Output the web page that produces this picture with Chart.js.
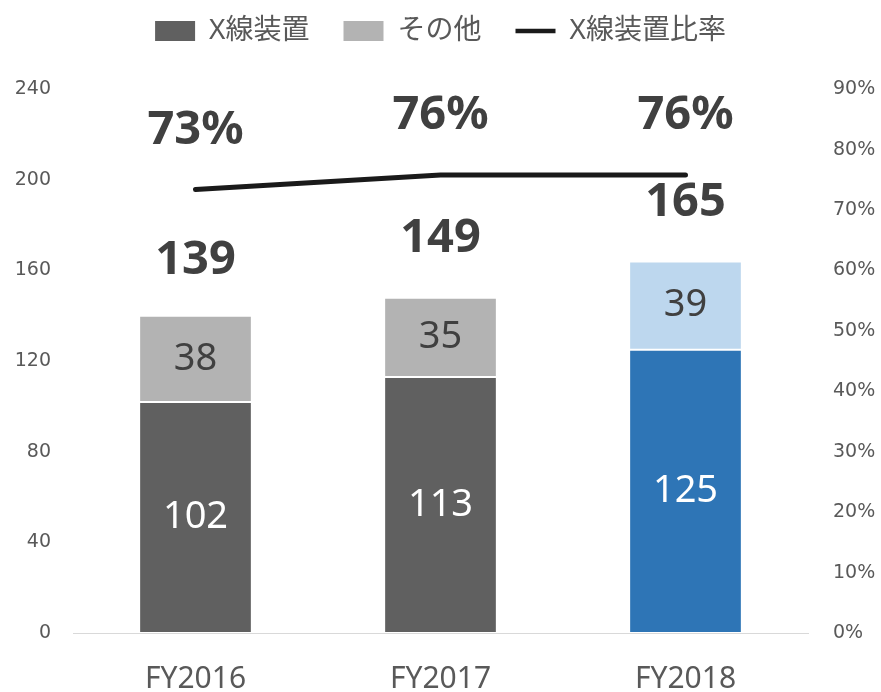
<!DOCTYPE html>
<html>
<head>
<meta charset="utf-8">
<script src="https://cdn.jsdelivr.net/npm/chart.js@4/dist/chart.umd.min.js"></script>
<style>
html,body{margin:0;padding:0;background:#fff;}
#wrap{width:881px;height:692px;position:relative;}
</style>
</head>
<body>
<div id="wrap"><canvas id="c" width="881" height="692"></canvas></div>
<script>
const categories = ['FY2016', 'FY2017', 'FY2018'];
const xraySales = [102, 113, 125];
const otherSales = [38, 35, 39];
const totals = [139, 149, 165];
const xrayRatio = [0.734, 0.758, 0.758];
const ratioLabels = ['73%', '76%', '76%'];
const leftTicks = [0, 40, 80, 120, 160, 200, 240];
const seriesNames = ['X線装置', 'その他', 'X線装置比率'];

const FONT = '"Noto Sans", "Noto Sans CJK JP", sans-serif';
const TICKFONT = '"DejaVu Sans", sans-serif';
const xrayColors = ['#606060', '#606060', '#2e75b6'];
const otherColors = ['#b3b3b3', '#b3b3b3', '#bdd7ee'];

const labelPlugin = {
  id: 'labels',
  afterDatasetsDraw(chart) {
    const ctx = chart.ctx;
    const y = chart.scales.y;
    ctx.save();
    ctx.textAlign = 'center';
    ctx.textBaseline = 'middle';
    const m0 = chart.getDatasetMeta(0), m1 = chart.getDatasetMeta(1), m2 = chart.getDatasetMeta(2);
    ctx.font = '38px ' + FONT;
    m0.data.forEach((el, i) => {
      ctx.fillStyle = '#ffffff';
      ctx.fillText(String(xraySales[i]), el.x, (el.y + el.base) / 2);
    });
    m1.data.forEach((el, i) => {
      ctx.fillStyle = '#404040';
      ctx.fillText(String(otherSales[i]), el.x, (el.y + el.base) / 2);
    });
    ctx.font = 'bold 47px ' + FONT;
    ctx.fillStyle = '#404040';
    m1.data.forEach((el, i) => {
      ctx.fillText(String(totals[i]), el.x, y.getPixelForValue(totals[i]) - 57);
    });
    m2.data.forEach((el, i) => {
      ctx.fillText(ratioLabels[i], el.x, el.y - 59);
    });
    ctx.restore();
  }
};

new Chart(document.getElementById('c'), {
  type: 'bar',
  data: {
    labels: categories,
    datasets: [
      {
        label: seriesNames[0],
        data: xraySales,
        backgroundColor: xrayColors,
        borderColor: '#ffffff',
        borderWidth: 1,
        borderSkipped: false,
        barPercentage: 0.92,
        categoryPercentage: 0.5,
        yAxisID: 'y',
        stack: 's'
      },
      {
        label: seriesNames[1],
        data: otherSales,
        backgroundColor: otherColors,
        borderColor: '#ffffff',
        borderWidth: 1,
        borderSkipped: false,
        barPercentage: 0.92,
        categoryPercentage: 0.5,
        yAxisID: 'y',
        stack: 's'
      },
      {
        type: 'line',
        label: seriesNames[2],
        data: xrayRatio,
        borderColor: '#1a1a1a',
        backgroundColor: '#1a1a1a',
        borderWidth: 5,
        pointRadius: 0,
        tension: 0,
        yAxisID: 'y1',
        borderCapStyle: 'round'
      }
    ]
  },
  options: {
    responsive: false,
    animation: false,
    layout: { padding: { top: -17, left: 0, right: 0, bottom: 0 } },
    plugins: {
      tooltip: { enabled: false },
      subtitle: {
        display: true,
        text: '',
        position: 'top',
        weight: 500,
        font: { size: 1 },
        padding: { top: 33, bottom: 0 }
      },
      legend: {
        position: 'top',
        labels: {
          color: '#595959',
          font: { family: FONT, size: 28 },
          usePointStyle: true,
          pointStyleWidth: 40,
          boxHeight: 20,
          padding: 34,
          generateLabels(chart) {
            return chart.data.datasets.map((ds, i) => ({
              text: ds.label,
              datasetIndex: i,
              fillStyle: i === 0 ? xrayColors[0] : (i === 1 ? otherColors[0] : '#1a1a1a'),
              strokeStyle: i === 2 ? '#1a1a1a' : 'rgba(0,0,0,0)',
              lineWidth: i === 2 ? 4.5 : 0,
              pointStyle: i === 2 ? 'line' : 'rect',
              fontColor: '#595959',
              hidden: false
            }));
          }
        }
      }
    },
    scales: {
      x: {
        stacked: true,
        grid: { display: false, drawTicks: false },
        border: { display: true, color: '#d9d9d9', width: 1 },
        ticks: { color: '#595959', font: { family: FONT, size: 30 }, padding: 28 },
        afterFit(s) { s.height = 59; }
      },
      y: {
        stacked: true,
        position: 'left',
        min: 0, max: 240,
        afterBuildTicks(s) { s.ticks = leftTicks.map(v => ({ value: v })); },
        grid: { display: false, drawTicks: false },
        border: { display: false },
        ticks: { color: '#595959', font: { family: TICKFONT, size: 19 }, padding: 22 },
        afterFit(s) { s.width = 73; }
      },
      y1: {
        position: 'right',
        min: 0, max: 0.9,
        ticks: {
          stepSize: 0.1,
          color: '#595959',
          font: { family: TICKFONT, size: 19 },
          padding: 25,
          callback: v => Math.round(v * 100) + '%'
        },
        grid: { display: false, drawTicks: false },
        border: { display: false },
        afterFit(s) { s.width = 73; }
      }
    }
  },
  plugins: [labelPlugin]
});
</script>
</body>
</html>
